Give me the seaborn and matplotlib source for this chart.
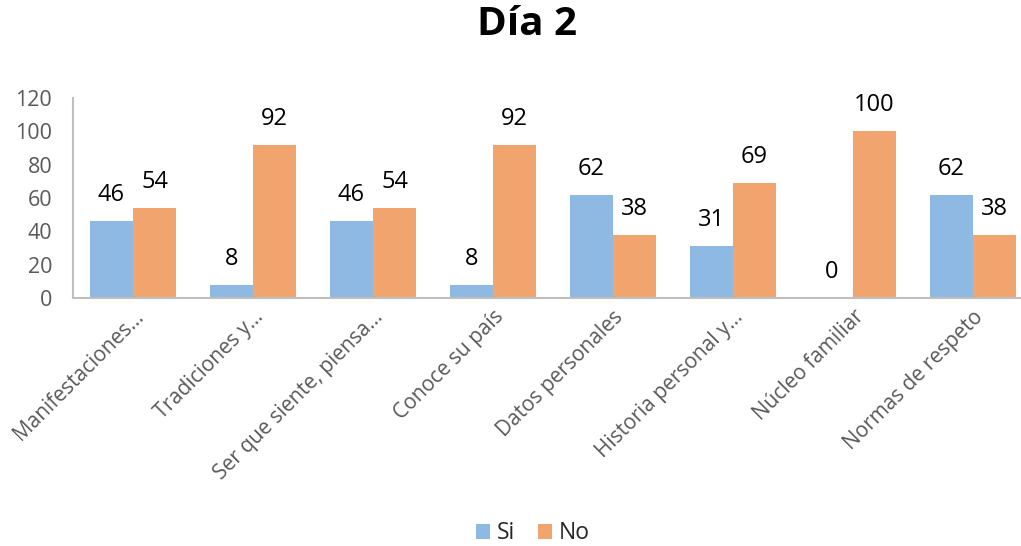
import matplotlib.pyplot as plt
import pandas as pd
import seaborn as sns

categories = [
    "Manifestaciones…",
    "Tradiciones y…",
    "Ser que siente, piensa…",
    "Conoce su país",
    "Datos personales",
    "Historia personal y…",
    "Núcleo familiar",
    "Normas de respeto",
]
si_values = [46, 8, 46, 8, 62, 31, 0, 62]
no_values = [54, 92, 54, 92, 38, 69, 100, 38]
series_names = ["Si", "No"]
colors = ["#8DB9E2", "#F2A46E"]

df = pd.DataFrame({
    "categoria": categories * 2,
    "valor": si_values + no_values,
    "serie": [series_names[0]] * len(categories) + [series_names[1]] * len(categories),
})

sns.set_theme(style="white")
plt.rcParams["font.family"] = ["Open Sans", "DejaVu Sans"]

fig = plt.figure(figsize=(10.21, 5.46), dpi=100)
ax = fig.add_axes([73 / 1021, 1 - 298 / 546, (1021 - 73) / 1021, 200 / 546])

sns.barplot(
    data=df, x="categoria", y="valor", hue="serie",
    palette=colors, width=0.72, saturation=1, linewidth=0, ax=ax, legend=True,
)

for container in ax.containers:
    ax.bar_label(container, fmt="%d", padding=10, fontsize=17, color="black")

ax.set_ylim(0, 120)
ax.set_yticks(range(0, 121, 20))
ax.set_xlim(-0.5, 7.4)
ax.set_xlabel("")
ax.set_ylabel("")
ax.tick_params(axis="y", labelsize=15.5, colors="#595959", length=0, pad=15)
ax.tick_params(axis="x", labelsize=15, colors="#595959", length=0, pad=6)
plt.setp(ax.get_xticklabels(), rotation=45, ha="right", rotation_mode="anchor")

for side in ["top", "right"]:
    ax.spines[side].set_visible(False)
for side in ["left", "bottom"]:
    ax.spines[side].set_color("#BFBFBF")
    ax.spines[side].set_linewidth(1.5)

fig.suptitle("Día 2", fontsize=29, fontweight="bold", color="black", x=0.516, y=0.99)

handles, labels = ax.get_legend_handles_labels()
ax.legend_.remove()
fig.legend(
    handles, labels, loc="lower center", ncol=2, frameon=False,
    fontsize=16.5, handlelength=0.6, handleheight=0.6, handletextpad=0.3,
    columnspacing=1.0, borderaxespad=0.1, bbox_to_anchor=(0.522, -0.02),
)

fig.savefig("out.png", dpi=100)
